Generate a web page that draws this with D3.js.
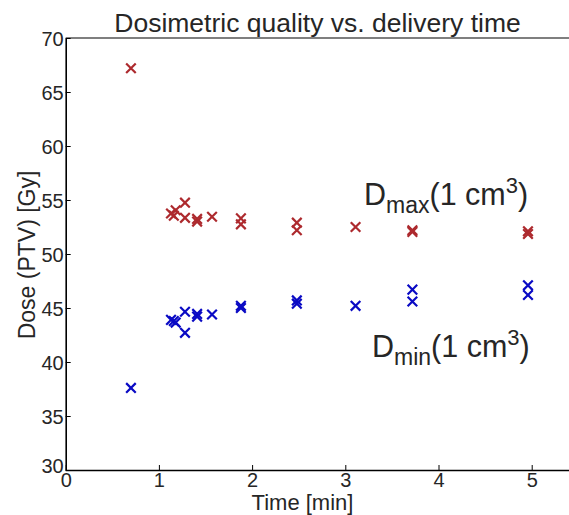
<!DOCTYPE html>
<html>
<head>
<meta charset="utf-8">
<script src="https://cdn.jsdelivr.net/npm/d3@7/dist/d3.min.js"></script>
<style>
  html, body { margin: 0; padding: 0; background: #fff; }
  svg { display: block; font-family: "Liberation Sans", Arial, sans-serif; }
</style>
</head>
<body>
<svg id="chart" width="569" height="515"></svg>
<script>
// Delivery time of each plan (minutes)
const times = [0.70, 1.13, 1.18, 1.16, 1.28, 1.28, 1.41, 1.41, 1.57, 1.88, 1.88, 2.48, 2.48, 3.11, 3.72, 3.72, 4.96, 4.96];
// Near-maximum dose to 1 cm3 of the PTV (Gy)
const dmax = [67.2, 53.75, 54.05, 53.55, 54.75, 53.35, 53.25, 53.0, 53.45, 53.3, 52.75, 52.9, 52.2, 52.5, 52.2, 52.05, 52.1, 51.85];
// Near-minimum dose to 1 cm3 of the PTV (Gy)
const dmin = [37.6, 43.9, 43.65, 43.8, 44.65, 42.7, 44.45, 44.2, 44.4, 45.2, 45.0, 45.7, 45.4, 45.2, 46.7, 45.6, 47.1, 46.2];

const xTicks = [0, 1, 2, 3, 4, 5];
const yTicks = [30, 35, 40, 45, 50, 55, 60, 65, 70];

const svg = d3.select("#chart");
const padLeft = 65.7, padTop = 38, axisBottomY = 470;

const x = d3.scaleLinear().domain([0, 5.5]).range([padLeft, padLeft + 5.5 * 93.2]);
const y = d3.scaleLinear().domain([30, 70]).range([axisBottomY, padTop]);

const textColor = "#262626";

// Top frame line
svg.append("line")
  .attr("x1", padLeft).attr("x2", 569)
  .attr("y1", padTop).attr("y2", padTop)
  .attr("stroke", "#000").attr("stroke-width", 1.2);

// Axes with inward ticks
const xAxis = svg.append("g")
  .attr("transform", `translate(0,${axisBottomY})`)
  .call(d3.axisBottom(x).tickValues(xTicks).tickFormat(d3.format("d"))
    .tickSizeInner(-5).tickSizeOuter(0).tickPadding(2));
const yAxis = svg.append("g")
  .attr("transform", `translate(${padLeft},0)`)
  .call(d3.axisLeft(y).tickValues(yTicks).tickFormat(d3.format("d"))
    .tickSizeInner(-5).tickSizeOuter(0).tickPadding(2));

[xAxis, yAxis].forEach(g => {
  g.select(".domain").attr("stroke", "#000").attr("stroke-width", 1.6);
  g.selectAll(".tick line").attr("stroke", "#000").attr("stroke-width", 1);
  g.selectAll(".tick text")
    .attr("fill", textColor)
    .style("font-size", "20px")
    .style("font-family", "'Liberation Sans', Arial, sans-serif");
});
xAxis.select(".domain").attr("d", `M${padLeft},0.5H569`);
xAxis.selectAll(".tick text").attr("dy", "0.74em");
yAxis.selectAll(".tick text").attr("dy", "0.36em");
// lowest y label sits just above the x-axis corner
yAxis.selectAll(".tick text").filter(d => d === 30).attr("dy", "0.1em");

// Title and axis labels
svg.append("text")
  .attr("x", 317.5).attr("y", 32)
  .attr("text-anchor", "middle")
  .attr("fill", textColor)
  .style("font-size", "26.5px")
  .text("Dosimetric quality vs. delivery time");

svg.append("text")
  .attr("x", 302.5).attr("y", 510)
  .attr("text-anchor", "middle")
  .attr("fill", textColor)
  .style("font-size", "22px")
  .text("Time [min]");

svg.append("text")
  .attr("transform", `translate(35,255) rotate(-90)`)
  .attr("text-anchor", "middle")
  .attr("fill", textColor)
  .style("font-size", "23px")
  .text("Dose (PTV) [Gy]");

// Cross markers
function crosses(values, color) {
  const s = 4.8;
  svg.append("g")
    .selectAll("path")
    .data(times.map((t, i) => [t, values[i]]))
    .join("path")
    .attr("d", d => {
      const cx = x(d[0]), cy = y(d[1]);
      return `M${cx - s},${cy - s}L${cx + s},${cy + s}M${cx - s},${cy + s}L${cx + s},${cy - s}`;
    })
    .attr("stroke", color)
    .attr("stroke-width", 2.2)
    .attr("fill", "none");
}
crosses(dmax, "#ad2a2e");
crosses(dmin, "#0a0ac4");

// Series annotations
function seriesLabel(xp, yp, sub) {
  const t = svg.append("text")
    .attr("x", xp).attr("y", yp)
    .attr("fill", textColor)
    .style("font-size", "30.5px");
  t.append("tspan").text("D");
  t.append("tspan").attr("dy", 8).style("font-size", "23px").text(sub);
  t.append("tspan").attr("dy", -8).text("(1 cm");
  t.append("tspan").attr("dy", -12).style("font-size", "22px").text("3");
  t.append("tspan").attr("dy", 12).text(")");
}
seriesLabel(364, 205, "max");
seriesLabel(372, 357, "min");
</script>
</body>
</html>
